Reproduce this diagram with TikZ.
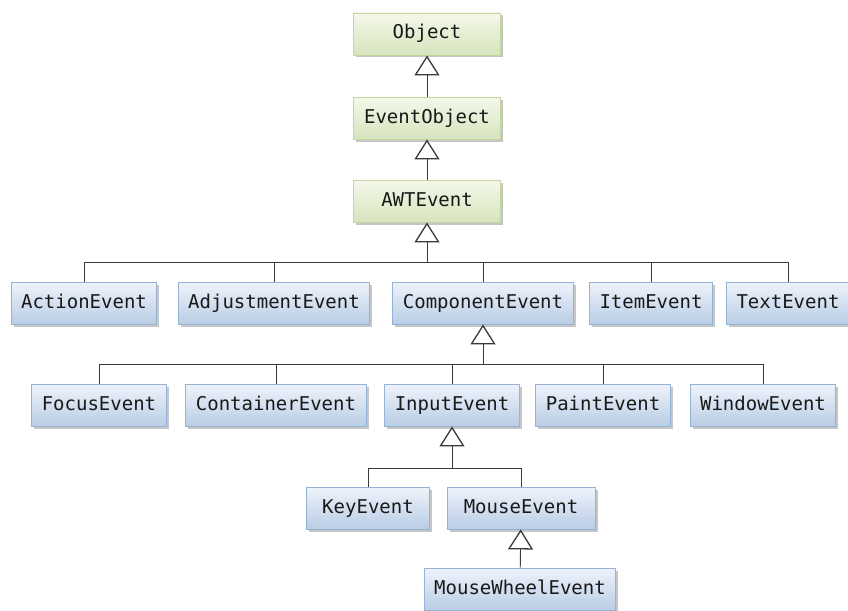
\documentclass[tikz,border=0pt]{standalone}
\usepackage{fontspec}
\setmonofont{DejaVu Sans Mono}
\usetikzlibrary{arrows.meta,shadows}

\definecolor{boxline}{HTML}{95B3D7}
\definecolor{boxtop}{HTML}{EEF3FA}
\definecolor{boxbot}{HTML}{B9CDE5}
\definecolor{rootline}{HTML}{C3D69B}
\definecolor{roottop}{HTML}{F4F8EA}
\definecolor{rootbot}{HTML}{D7E4BD}
\definecolor{wire}{HTML}{3A3A3A}

\tikzset{
  cls/.style={draw=boxline, line width=0.9pt, top color=boxtop, bottom color=boxbot,
    minimum height=42pt, inner xsep=10pt, text height=14pt, text depth=4pt,
    font=\ttfamily\fontsize{19}{22}\selectfont, text=black!90,
    drop shadow={shadow xshift=2.5pt, shadow yshift=-2.5pt, opacity=0.45, fill=gray}},
  root/.style={cls, draw=rootline, top color=roottop, bottom color=rootbot, minimum width=147pt},
  isa/.style={draw=wire, line width=0.9pt,
    -{Triangle[open, width=25pt, length=20pt, line width=1.3pt, fill=white]}},
  link/.style={draw=wire, line width=0.9pt}
}

\begin{document}
\begin{tikzpicture}[x=1pt, y=-1pt]
\useasboundingbox (0,0) rectangle (848,610);

% top of the hierarchy
\node[root] (obj) at (427,34) {Object};
\node[root] (evobj) at (427,118) {EventObject};
\node[root] (awt) at (427,201) {AWTEvent};

% direct subclasses of AWTEvent
\node[cls] (action) at (84,303) {ActionEvent};
\node[cls] (adjust) at (274,303) {AdjustmentEvent};
\node[cls] (comp) at (483,303) {ComponentEvent};
\node[cls] (item) at (651,303) {ItemEvent};
\node[cls] (text) at (788,303) {TextEvent};

% subclasses of ComponentEvent
\node[cls] (focus) at (99,405) {FocusEvent};
\node[cls] (container) at (276,405) {ContainerEvent};
\node[cls] (input) at (452,405) {InputEvent};
\node[cls] (paint) at (603,405) {PaintEvent};
\node[cls] (window) at (763,405) {WindowEvent};

% input events
\node[cls, minimum width=123pt] (key) at (368,508) {KeyEvent};
\node[cls, minimum width=148pt] (mouse) at (521,508) {MouseEvent};
\node[cls] (wheel) at (520,589) {MouseWheelEvent};

% buses
\coordinate (b1) at (awt.south |- 0,262);
\coordinate (b2) at (comp.south |- 0,364);
\coordinate (b3) at (input.south |- 0,468);

\path[isa] (evobj) -- (obj);
\path[isa] (awt) -- (evobj);
\path[isa] (b1) -- (awt);
\path[isa] (b2) -- (comp);
\path[isa] (b3) -- (input);
\path[isa] (wheel) -- (mouse);

\foreach \n in {action,adjust,comp,item,text}
  \path[link] (\n.north) |- (b1);
\foreach \n in {focus,container,input,paint,window}
  \path[link] (\n.north) |- (b2);
\foreach \n in {key,mouse}
  \path[link] (\n.north) |- (b3);
\end{tikzpicture}
\end{document}
